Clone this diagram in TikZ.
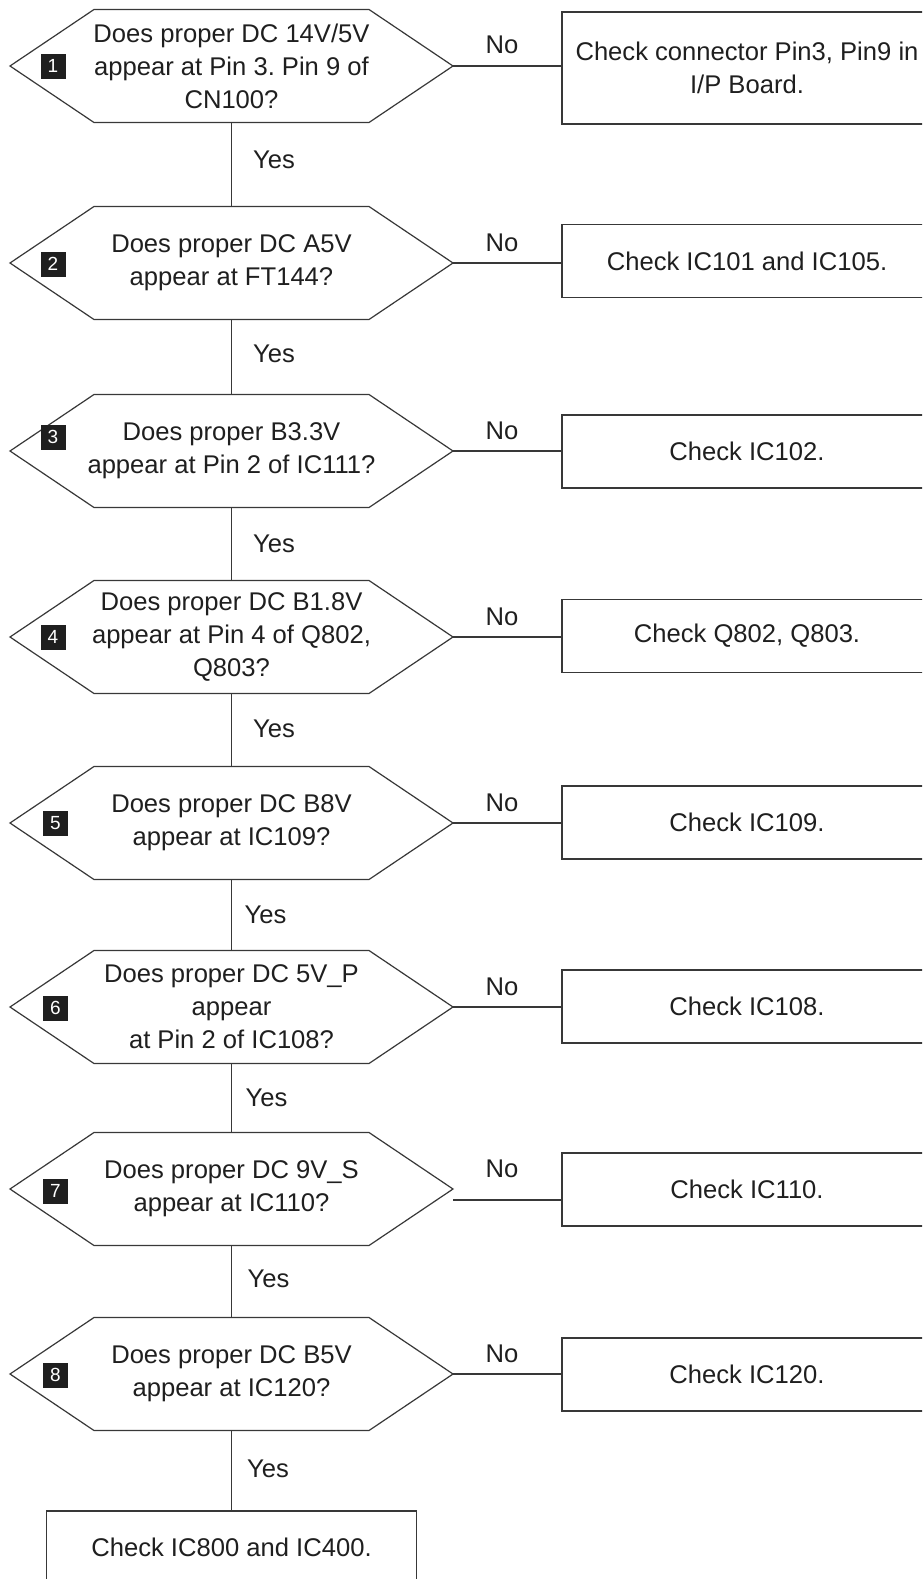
\documentclass[tikz,border=0pt]{standalone}
\usepackage{fontspec}
\setmainfont{Liberation Sans}
\usetikzlibrary{calc}
\frenchspacing
\newcommand\hexoutline[1]{%
  \draw[line] ($(#1.center)+(-137.5,-56.5)$) -- ($(#1.center)+(137.5,-56.5)$)
    -- ($(#1.center)+(221.5,0)$) coordinate (#1r)
    -- ($(#1.center)+(137.5,56.5)$) -- ($(#1.center)+(-137.5,56.5)$)
    -- ($(#1.center)+(-221.5,0)$) coordinate (#1l) -- cycle;
  \coordinate (#1top) at ($(#1.center)+(0,-56.5)$);
  \coordinate (#1bot) at ($(#1.center)+(0,56.5)$);}
\begin{document}
\begin{tikzpicture}[x=0.5pt,y=-0.5pt,
  line/.style={draw=black!78, line width=0.6pt},
  txt/.style={text=black!88, font=\fontsize{12.8}{16.5}\selectfont\frenchspacing, align=center},
  hexq/.style={txt, inner sep=0pt},
  chkbox/.style={txt, line, minimum width=185pt, minimum height=36.5pt, inner sep=0pt},
  numsq/.style={fill=black!88, text=white, minimum size=12.5pt, inner sep=0pt,
    font=\fontsize{9.5}{9.5}\selectfont},
  lbl/.style={txt, anchor=base, inner sep=0pt}]
\clip (0,0) rectangle (922,1579);
\fill[white] (0,0) rectangle (922,1579);

% question hexagons
\node[hexq] (q1) at (231.5,66) {Does proper DC 14V/5V\\appear at Pin 3. Pin 9 of\\CN100?};
\node[hexq] (q2) at (231.5,263) {Does proper DC A5V\\appear at FT144?};
\node[hexq] (q3) at (231.5,451) {Does proper B3.3V\\appear at Pin 2 of IC111?};
\node[hexq] (q4) at (231.5,637) {Does proper DC B1.8V\\appear at Pin 4 of Q802,\\Q803?};
\node[hexq] (q5) at (231.5,823) {Does proper DC B8V\\appear at IC109?};
\node[hexq] (q6) at (231.5,1007) {Does proper DC 5V\_P\\appear\\at Pin 2 of IC108?};
\node[hexq] (q7) at (231.5,1189) {Does proper DC 9V\_S\\appear at IC110?};
\node[hexq] (q8) at (231.5,1374) {Does proper DC B5V\\appear at IC120?};
\hexoutline{q1}\hexoutline{q2}\hexoutline{q3}\hexoutline{q4}
\hexoutline{q5}\hexoutline{q6}\hexoutline{q7}\hexoutline{q8}

% number squares
\node[numsq] (n1) at (53,66) {1};
\node[numsq] (n2) at (53,264) {2};
\node[numsq] (n3) at (53,437) {3};
\node[numsq] (n4) at (53,637) {4};
\node[numsq] (n5) at (55.5,823) {5};
\node[numsq] (n6) at (55.5,1008) {6};
\node[numsq] (n7) at (55.5,1191) {7};
\node[numsq] (n8) at (55.5,1375) {8};

% check boxes
\node[chkbox, minimum height=56pt] (b1) at (747,68) {Check connector Pin3, Pin9 in\\I/P Board.};
\node[chkbox] (b2) at (747,261) {Check IC101 and IC105.};
\node[chkbox] (b3) at (747,451.5) {Check IC102.};
\node[chkbox] (b4) at (747,636) {Check Q802, Q803.};
\node[chkbox] (b5) at (747,822.5) {Check IC109.};
\node[chkbox] (b6) at (747,1006.5) {Check IC108.};
\node[chkbox] (b7) at (747,1189.5) {Check IC110.};
\node[chkbox] (b8) at (747,1374.5) {Check IC120.};
\node[chkbox] (bf) at (231.5,1547.5) {Check IC800 and IC400.};

% No connectors
\draw[line] (q1r) -- (q1r -| b1.west);
\draw[line] (q2r) -- (q2r -| b2.west);
\draw[line] (q3r) -- (q3r -| b3.west);
\draw[line] (q4r) -- (q4r -| b4.west);
\draw[line] (q5r) -- (q5r -| b5.west);
\draw[line] (q6r) -- (q6r -| b6.west);
\draw[line] ($(q7r)+(0,11)$) -- ($(q7r -| b7.west)+(0,11)$);
\draw[line] (q8r) -- (q8r -| b8.west);
\foreach \i in {1,...,8}{
  \node[lbl] (no\i) at ($(q\i r)+(49,-12)$) {No};
}

% Yes connectors
\draw[line] (q1bot) -- (q2top);
\draw[line] (q2bot) -- (q3top);
\draw[line] (q3bot) -- (q4top);
\draw[line] (q4bot) -- (q5top);
\draw[line] (q5bot) -- (q6top);
\draw[line] (q6bot) -- (q7top);
\draw[line] (q7bot) -- (q8top);
\draw[line] (q8bot) -- (bf.north);
\node[lbl] (y1) at (274,168) {Yes};
\node[lbl] (y2) at (274,362) {Yes};
\node[lbl] (y3) at (274,552.5) {Yes};
\node[lbl] (y4) at (274,737) {Yes};
\node[lbl] (y5) at (265.5,923) {Yes};
\node[lbl] (y6) at (266.5,1106) {Yes};
\node[lbl] (y7) at (268.5,1287) {Yes};
\node[lbl] (y8) at (268,1477) {Yes};
\end{tikzpicture}
\end{document}
